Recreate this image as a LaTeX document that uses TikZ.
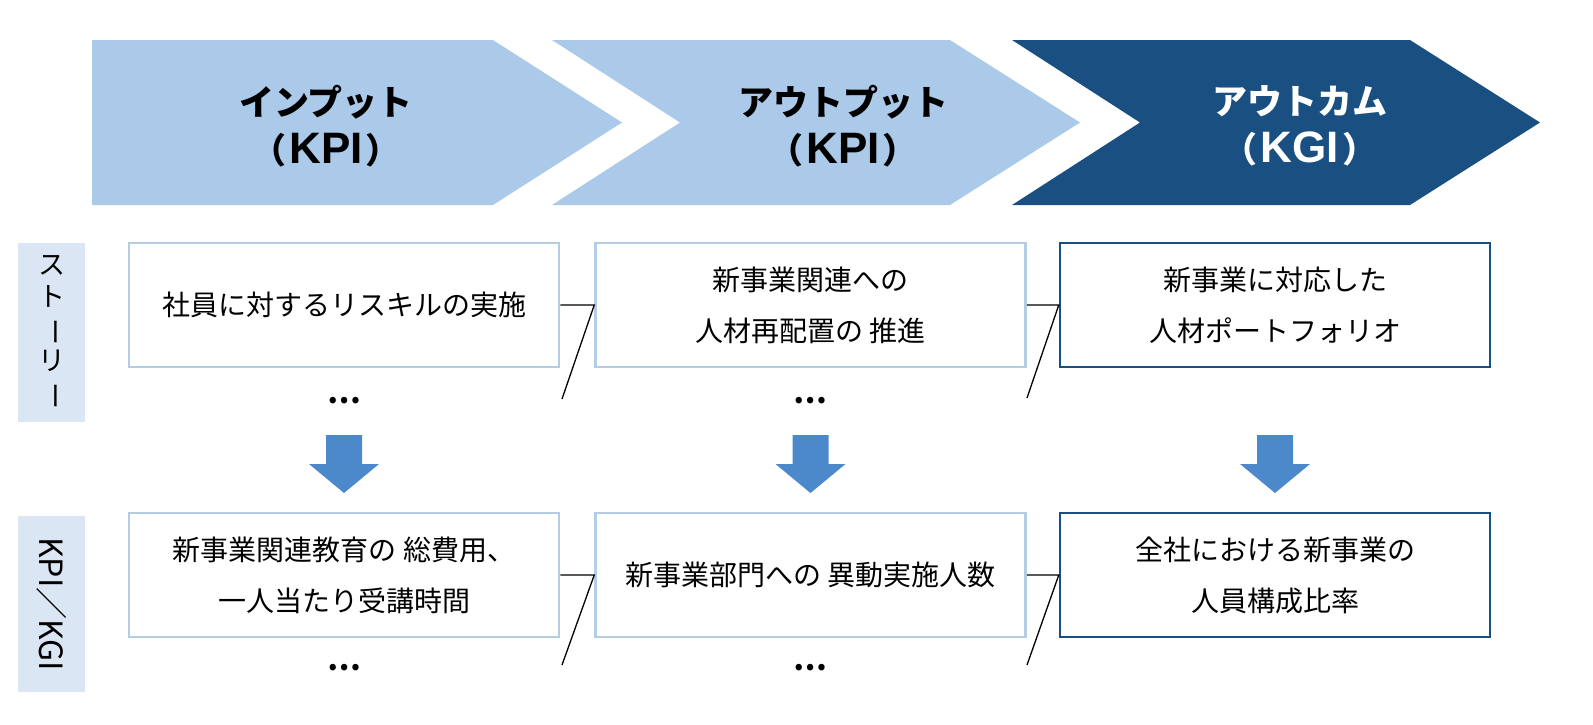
\documentclass[tikz,border=0pt]{standalone}
\usepackage{fontspec}
\usepackage{graphicx}
\setmainfont{Noto Sans CJK JP}
\newfontfamily\latinfont{Liberation Sans}
\definecolor{chevlight}{RGB}{171,202,233}
\definecolor{chevdark}{RGB}{26,79,130}
\definecolor{boxlight}{RGB}{180,204,228}
\definecolor{labelbg}{RGB}{218,230,243}
\definecolor{arrowblue}{RGB}{76,137,203}
\newcommand{\kpitext}[1]{（\hspace{3pt}{\latinfont\fontsize{44}{48}\selectfont\bfseries #1}\hspace{3pt}）}
\tikzset{
  chevtext/.style={align=center, font=\fontsize{35}{48}\selectfont\bfseries, inner sep=0pt},
  lbox/.style={draw=boxlight, line width=2.5pt, fill=white, minimum width=430pt, minimum height=124pt, align=center, inner sep=0pt, font=\fontsize{28}{51}\selectfont},
  dbox/.style={lbox, draw=chevdark},
  sidelabel/.style={fill=labelbg, minimum width=67pt, inner sep=0pt, align=center, font=\fontsize{27}{32}\selectfont},
  conn/.style={black, line width=1.3pt},
  dots/.style={font=\fontsize{30}{30}\selectfont\bfseries, inner sep=0pt},
}
\begin{document}
\begin{tikzpicture}[x=1pt, y=-1pt]
\useasboundingbox (0,0) rectangle (1593,724);
% chevrons
\fill[chevlight] (92,40) -- (493,40) -- (622,122.5) -- (493,205) -- (92,205) -- cycle;
\fill[chevlight] (552,40) -- (950,40) -- (1080,122.5) -- (950,205) -- (552,205) -- (680,122.5) -- cycle;
\fill[chevdark] (1012,40) -- (1410,40) -- (1540,122.5) -- (1410,205) -- (1012,205) -- (1140,122.5) -- cycle;
\node[chevtext] (c1) at (326,126) {インプット\\\kpitext{KPI}};
\node[chevtext] (c2) at (843,126) {アウトプット\\\kpitext{KPI}};
\node[chevtext, text=white] (c3) at (1300,126) {アウトカム\\\kpitext{KGI}};
% side labels
\node[sidelabel, minimum height=179pt] (l1) at (51.5,332.5) {ス\\ト\\\rotatebox[origin=c]{-90}{ー}\\リ\\\rotatebox[origin=c]{-90}{ー}};
\node[sidelabel, minimum height=176pt, font=\fontsize{32}{32}\selectfont] (l2) at (51.5,604) {\rotatebox{-90}{KPI／KGI}};
% boxes row 1
\node[lbox] (a1) at (344,305) {社員に対するリスキルの実施};
\node[lbox] (a2) at (810.5,305) {新事業関連への\\人材再配置の 推進};
\node[dbox] (a3) at (1275,305) {新事業に対応した\\人材ポートフォリオ};
% boxes row 2
\node[lbox] (b1) at (344,575) {新事業関連教育の 総費用、\\一人当たり受講時間};
\node[lbox] (b2) at (810.5,575) {新事業部門への 異動実施人数};
\node[dbox] (b3) at (1275,575) {全社における新事業の\\人員構成比率};
% connectors
\coordinate (e1) at (562,399);
\coordinate (e2) at (1027,398);
\coordinate (e3) at (562,665);
\coordinate (e4) at (1027,665);
\draw[conn] (a1.east) -- (a2.west) -- (e1);
\draw[conn] (a2.east) -- (a3.west) -- (e2);
\draw[conn] (b1.east) -- (b2.west) -- (e3);
\draw[conn] (b2.east) -- (b3.west) -- (e4);
% dots
\node[dots] (d1) at (344,401) {…};
\node[dots] (d2) at (810.5,401) {…};
\node[dots] (d3) at (344,668) {…};
\node[dots] (d4) at (810.5,668) {…};
% down arrows
\foreach \cx in {344,810.5,1275}{
  \fill[arrowblue] (\cx-18,435) -- (\cx+18,435) -- (\cx+18,464) -- (\cx+35,464) -- (\cx,493) -- (\cx-35,464) -- (\cx-18,464) -- cycle;
}
\end{tikzpicture}
\end{document}
